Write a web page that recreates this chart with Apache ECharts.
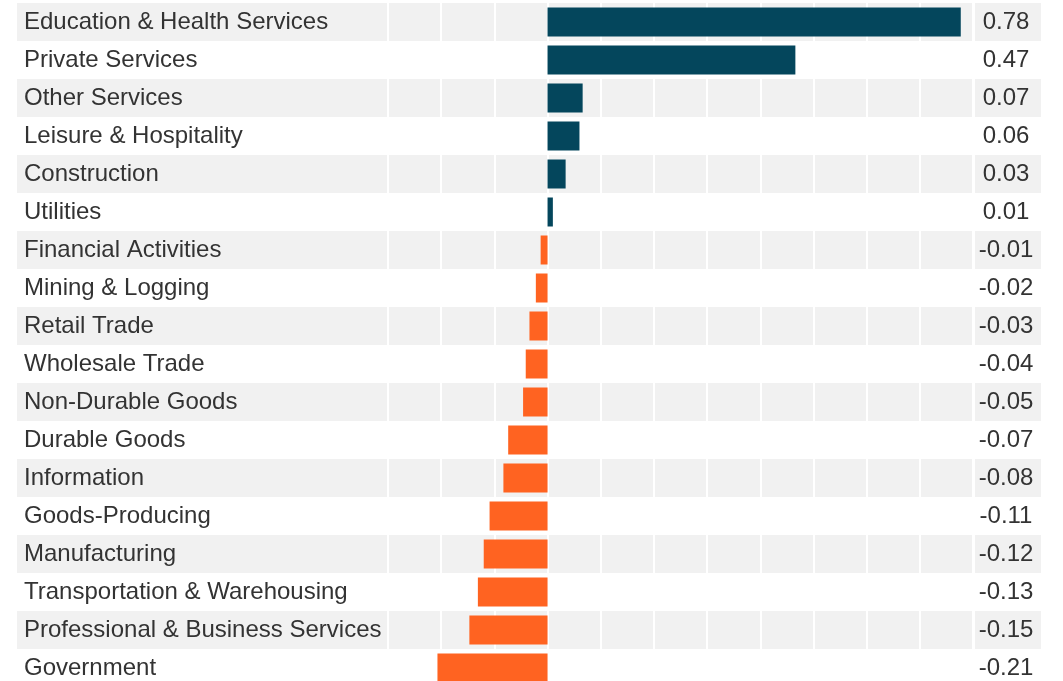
<!DOCTYPE html>
<html>
<head>
<meta charset="utf-8">
<script src="https://cdn.jsdelivr.net/npm/echarts@6/dist/echarts.min.js"></script>
<style>
  html, body { margin: 0; padding: 0; background: #ffffff; overflow: hidden; }
  #chart { width: 1063px; height: 690px; }
</style>
</head>
<body>
<div id="chart"></div>
<script>
const categories = [
  'Education & Health Services', 'Private Services', 'Other Services',
  'Leisure & Hospitality', 'Construction', 'Utilities',
  'Financial Activities', 'Mining & Logging', 'Retail Trade',
  'Wholesale Trade', 'Non-Durable Goods', 'Durable Goods',
  'Information', 'Goods-Producing', 'Manufacturing',
  'Transportation & Warehousing', 'Professional & Business Services', 'Government'
];
const values = [
  0.777, 0.466, 0.066,
  0.060, 0.034, 0.010,
  -0.013, -0.022, -0.034,
  -0.041, -0.046, -0.074,
  -0.083, -0.109, -0.120,
  -0.131, -0.147, -0.207
];
const axisMin = -0.3;
const axisMax = 0.8;
const axisStep = 0.1;

const POS = '#04465c';
const NEG = '#ff6321';
const BAND = ['#f1f1f1', '#ffffff'];
const TXT = '#333333';
const FONT = 'Liberation Sans, Arial, sans-serif';
const FS = 24;

const gridTop = 3, gridH = 684;
const chart = echarts.init(document.getElementById('chart'), null, { renderer: 'canvas' });

function catAxis(gi, extra) {
  return Object.assign({
    type: 'category', gridIndex: gi, data: categories, inverse: true,
    axisLine: { show: false }, axisTick: { show: false },
    splitLine: { show: false },
    splitArea: { show: true, areaStyle: { color: BAND } },
    axisLabel: { show: false }
  }, extra || {});
}

chart.setOption({
  animation: false,
  backgroundColor: '#ffffff',
  grid: [
    { left: 17, width: 370, top: gridTop, height: gridH },
    { left: 388, width: 585, top: gridTop, height: gridH },
    { left: 975, width: 66, top: gridTop, height: gridH }
  ],
  xAxis: [
    { type: 'value', gridIndex: 0, min: 0, max: 1, show: false },
    {
      type: 'value', gridIndex: 1, min: axisMin, max: axisMax, interval: axisStep, z: 1,
      axisLine: { show: false }, axisTick: { show: false }, axisLabel: { show: false },
      splitLine: { show: true, lineStyle: { color: '#ffffff', width: 2 } }
    },
    { type: 'value', gridIndex: 2, min: 0, max: 1, show: false }
  ],
  yAxis: [
    catAxis(0, {
      z: 0,
      axisLabel: {
        show: true, inside: true, margin: 7, align: 'left',
        color: TXT, fontFamily: FONT, fontSize: FS
      }
    }),
    catAxis(1, { z: 0 }),
    catAxis(2, { z: 0 })
  ],
  series: [
    {
      type: 'bar', xAxisIndex: 1, yAxisIndex: 1, barWidth: 29, z: 3,
      data: values.map(v => ({ value: v, itemStyle: { color: v >= 0 ? POS : NEG } }))
    },
    {
      type: 'bar', xAxisIndex: 2, yAxisIndex: 2, barWidth: 29, z: 3,
      itemStyle: { color: 'rgba(0,0,0,0)' },
      data: values.map(() => 1),
      label: {
        show: true, position: 'inside', offset: [-2, 0],
        color: TXT, fontFamily: FONT, fontSize: FS,
        formatter: p => values[p.dataIndex].toFixed(2)
      },
      silent: true
    }
  ]
});
</script>
</body>
</html>
